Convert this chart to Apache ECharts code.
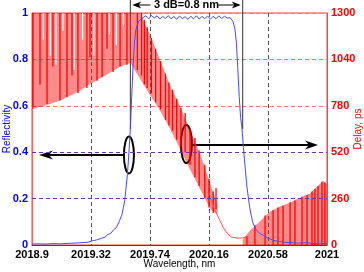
<!DOCTYPE html>
<html>
<head>
<meta charset="utf-8">
<script src="https://cdn.jsdelivr.net/npm/echarts@6/dist/echarts.min.js"></script>
<style>
html, body { margin: 0; padding: 0; background: #fff; }
#chart { width: 364px; height: 272px; }
</style>
</head>
<body>
<div id="chart"></div>
<script>
// x axis is drawn as offset from the first tick so the 0.42 nm ticks line up
var X0 = 2018.9;
var xStep = 0.42;
var xSpan = 2.1;

// reflectivity (left axis)
var reflW = [2018.90, 2018.95, 2019.00, 2019.05, 2019.10, 2019.15, 2019.20, 2019.25, 2019.30, 2019.33,
    2019.36, 2019.39, 2019.42, 2019.44, 2019.46, 2019.48, 2019.50, 2019.52, 2019.54, 2019.55,
    2019.56, 2019.57, 2019.58, 2019.59, 2019.60, 2019.61, 2019.62, 2019.63, 2019.64, 2019.66,
    2019.69, 2019.71, 2019.73, 2019.75, 2019.77, 2019.79, 2019.81, 2019.83, 2019.85, 2019.87,
    2019.89, 2019.91, 2019.93, 2019.95, 2019.97, 2019.99, 2020.01, 2020.03, 2020.05, 2020.07,
    2020.09, 2020.11, 2020.13, 2020.15, 2020.17, 2020.19, 2020.21, 2020.23, 2020.25, 2020.27,
    2020.29, 2020.31, 2020.33, 2020.345, 2020.355, 2020.365, 2020.375, 2020.385, 2020.395, 2020.405,
    2020.415, 2020.43, 2020.45, 2020.47, 2020.49, 2020.52, 2020.55, 2020.58, 2020.62, 2020.66,
    2020.70, 2020.75, 2020.80, 2020.85, 2020.90, 2020.95, 2021.00];
var reflR = [0.004, 0.005, 0.004, 0.006, 0.005, 0.007, 0.008, 0.010, 0.012, 0.018,
    0.022, 0.028, 0.034, 0.045, 0.050, 0.065, 0.075, 0.100, 0.130, 0.160,
    0.190, 0.250, 0.310, 0.400, 0.500, 0.640, 0.780, 0.880, 0.930, 0.965,
    0.980, 0.988, 0.975, 0.990, 0.978, 0.988, 0.974, 0.986, 0.976, 0.989,
    0.975, 0.985, 0.973, 0.987, 0.976, 0.984, 0.972, 0.986, 0.975, 0.988,
    0.974, 0.985, 0.976, 0.987, 0.973, 0.986, 0.975, 0.988, 0.976, 0.986,
    0.978, 0.980, 0.965, 0.930, 0.870, 0.760, 0.640, 0.550, 0.500, 0.420,
    0.350, 0.250, 0.160, 0.100, 0.070, 0.050, 0.040, 0.030, 0.020, 0.015,
    0.012, 0.010, 0.008, 0.010, 0.006, 0.008, 0.005];

// group delay, ps (right axis): dense ripple drawn as band + spikes
var bandW = [2018.90, 2018.99, 2019.10, 2019.21, 2019.31, 2019.42, 2019.53, 2019.60, 2019.67, 2019.74,
    2019.81, 2019.88, 2019.95, 2020.02, 2020.10, 2020.17, 2020.22];
var bandLo = [760, 780, 810, 850, 900, 950, 1000, 1020, 930, 840, 755, 655, 545, 430, 310, 200, 170];
var bandHi = [1300, 1300, 1300, 1300, 1300, 1300, 1300, 1300, 1300, 1180, 1040, 900, 785, 655, 505, 340, 230];

var tailW = [2020.17, 2020.20, 2020.23, 2020.26, 2020.29, 2020.32, 2020.36, 2020.40, 2020.44];
var tailPs = [260, 200, 150, 100, 65, 45, 38, 40, 50];

var envW = [2020.40, 2020.45, 2020.52, 2020.59, 2020.66, 2020.73, 2020.80, 2020.88, 2020.94, 2020.97, 2021.00];
var envHi = [30, 80, 130, 185, 215, 235, 262, 290, 335, 360, 340];

// [wavelength, top, bottom]
var spikes = [
    [2018.907, 1300, 770], [2018.957, 1300, 900], [2019.007, 1300, 790], [2019.049, 1300, 1000],
    [2019.099, 1300, 810], [2019.149, 1300, 830], [2019.185, 1300, 950], [2019.227, 1300, 850],
    [2019.291, 1300, 880], [2019.313, 1300, 1050], [2019.363, 1300, 920], [2019.399, 1300, 940],
    [2019.434, 1300, 1100], [2019.477, 1300, 970], [2019.527, 1300, 1000], [2019.576, 1300, 1010],
    [2019.65, 1300, 980], [2019.68, 1300, 950], [2019.70, 1260, 900], [2019.72, 1220, 880],
    [2019.75, 1160, 850], [2019.78, 1100, 800], [2019.815, 1030, 760], [2019.85, 960, 700],
    [2019.875, 910, 670], [2019.90, 870, 640], [2019.93, 820, 590], [2019.96, 770, 550],
    [2019.99, 740, 520], [2020.025, 650, 450], [2020.06, 600, 380], [2020.09, 530, 330],
    [2020.13, 450, 260], [2020.16, 370, 210], [2020.19, 300, 180], [2020.21, 320, 200],
    [2020.43, 50, 0], [2020.487, 110, 0], [2020.559, 165, 0], [2020.616, 195, 0], [2020.651, 210, 0],
    [2020.687, 220, 0], [2020.737, 240, 0], [2020.772, 250, 0], [2020.822, 270, 0],
    [2020.858, 280, 0], [2020.893, 300, 0], [2020.914, 315, 0], [2020.936, 330, 0],
    [2020.964, 355, 0], [2020.985, 350, 0]
];
var gaps = [
    [2018.98, 1300, 1150], [2019.03, 1300, 1060], [2019.07, 1300, 1010], [2019.12, 1300, 1200],
    [2019.20, 1300, 980], [2019.26, 1300, 1150], [2019.34, 1300, 1060], [2019.45, 1300, 1180],
    [2019.50, 1300, 1120], [2019.55, 1300, 1230],
    [2020.47, 95, 20], [2020.55, 160, 40], [2020.66, 215, 60], [2020.76, 245, 40],
    [2020.80, 260, 90], [2020.87, 285, 50], [2020.90, 305, 30], [2020.93, 320, 100], [2020.97, 360, 40]
];

// annotations
var bwMarks = [2019.6, 2020.4];
var bwLevel = 0.5;
var bwText = '3 dB=0.8 nm';
var guideLevels = [0.2, 0.4];
var leftOval = [2019.59, 0.388];
var rightOval = [2019.999, 0.435];
var leftArrow = [2019.555, 2018.95, 0.388];
var rightArrow = [2020.039, 2020.936, 0.431];

var FONT = 'Liberation Sans, Arial, sans-serif';
var PINK = 'rgba(255,0,0,0.46)';

function pairs(ws, vs) {
    return ws.map(function (w, i) { return [w - X0, vs[i]]; });
}

function segItem(color, width) {
    return function (params, api) {
        var a = api.coord([api.value(0), api.value(1)]);
        var b = api.coord([api.value(0), api.value(2)]);
        return {
            type: 'line',
            shape: { x1: a[0], y1: a[1], x2: b[0], y2: b[1] },
            style: { stroke: color, lineWidth: width }
        };
    };
}

// whole band as one polygon: along the top, then back along the bottom
function bandItem(params, api) {
    if (params.dataIndex !== 0) return null;
    var pts = [];
    var n = bandW.length;
    for (var i = 0; i < n; i++) pts.push(api.coord([bandW[i] - X0, bandHi[i]]));
    for (var j = n - 1; j >= 0; j--) pts.push(api.coord([bandW[j] - X0, bandLo[j]]));
    return { type: 'polygon', shape: { points: pts }, style: { fill: PINK } };
}

var chart = echarts.init(document.getElementById('chart'));

chart.setOption({
    animation: false,
    grid: {
        left: 32, right: 37, top: 13, bottom: 27, outerBoundsMode: 'none',
        show: true, borderColor: '#ff4040', borderWidth: 1
    },
    xAxis: {
        type: 'value', min: 0, max: xSpan, interval: xStep,
        name: 'Wavelength, nm', nameLocation: 'middle', nameGap: 14, nameMoveOverlap: false,
        nameTextStyle: { color: '#000', fontFamily: FONT, fontSize: 10 },
        axisLine: { lineStyle: { color: '#444' } },
        axisTick: { show: false },
        axisLabel: {
            color: '#000', fontFamily: FONT, fontWeight: 'bold', fontSize: 11, margin: 4,
            formatter: function (v) { return String(parseFloat((v + X0).toFixed(2))); }
        },
        splitLine: { show: true, lineStyle: { color: '#555', type: [4, 3] } }
    },
    yAxis: [{
        type: 'value', min: 0, max: 1, interval: 0.2,
        name: 'Reflectivity', nameLocation: 'middle', nameGap: 20, nameMoveOverlap: false,
        nameTextStyle: { color: '#0000ff', fontFamily: FONT, fontSize: 10 },
        axisLine: { show: true, lineStyle: { color: '#ff6060' } },
        axisTick: { show: false },
        axisLabel: { color: '#0000ff', fontFamily: FONT, fontWeight: 'bold', fontSize: 11, margin: 4 },
        splitLine: { show: false }
    }, {
        type: 'value', min: 0, max: 1300, interval: 260,
        name: 'Delay, ps', nameLocation: 'middle', nameGap: 26, nameRotate: 90, nameMoveOverlap: false,
        nameTextStyle: { color: '#ff0000', fontFamily: FONT, fontSize: 10 },
        axisLine: { show: true, lineStyle: { color: '#ff4040' } },
        axisTick: { show: false },
        axisLabel: {
            color: '#ff0000', fontFamily: FONT, fontWeight: 'bold', fontSize: 11, margin: 4,
            formatter: function (v) { return String(v); }
        },
        splitLine: { show: true, lineStyle: { color: '#ff7070', type: [4, 3] } }
    }],
    series: [{
        type: 'custom', yAxisIndex: 1, silent: true, clip: true,
        renderItem: bandItem,
        data: pairs(bandW, bandLo)
    }, {
        type: 'line', yAxisIndex: 1, symbol: 'none', silent: true,
        lineStyle: { width: 0, opacity: 0 },
        areaStyle: { color: PINK, opacity: 1 },
        data: pairs(envW, envHi)
    }, {
        type: 'custom', yAxisIndex: 1, silent: true, clip: true,
        renderItem: segItem('#ffffff', 1.2),
        data: gaps.map(function (g) { return [g[0] - X0, g[1], g[2]]; })
    }, {
        type: 'custom', yAxisIndex: 1, silent: true, clip: true,
        renderItem: segItem('#ff0000', 1.3),
        data: spikes.map(function (s) { return [s[0] - X0, s[1], s[2]]; })
    }, {
        type: 'line', yAxisIndex: 1, symbol: 'none', silent: true,
        lineStyle: { color: '#ff5050', width: 1 },
        data: pairs(tailW, tailPs)
    }, {
        type: 'line', yAxisIndex: 0, symbol: 'none', silent: true,
        lineStyle: { color: '#4848ff', width: 1 },
        data: pairs(reflW, reflR),
        markLine: {
            silent: true, symbol: 'none', label: { show: false },
            lineStyle: { color: '#7030b0', type: [4, 3], width: 1 },
            data: guideLevels.map(function (v) { return { yAxis: v }; })
        }
    }]
});

function px(w, r) {
    return chart.convertToPixel({ xAxisIndex: 0, yAxisIndex: 0 }, [w - X0, r]);
}

var m1 = px(bwMarks[0], bwLevel);
var m2 = px(bwMarks[1], bwLevel);
var lo1 = px(leftOval[0], leftOval[1]);
var ro1 = px(rightOval[0], rightOval[1]);
var la0 = px(leftArrow[0], leftArrow[2]);
var la1 = px(leftArrow[1], leftArrow[2]);
var ra0 = px(rightArrow[0], rightArrow[2]);
var ra1 = px(rightArrow[1], rightArrow[2]);
var topY = 5;
var ink = '#000';

function arrowHead(tip, dir, len, half) {
    return {
        type: 'polygon',
        shape: { points: [[tip[0], tip[1]], [tip[0] - dir * len, tip[1] - half], [tip[0] - dir * len * 0.7, tip[1]], [tip[0] - dir * len, tip[1] + half]] },
        style: { fill: ink }
    };
}

chart.setOption({
    graphic: [
        { type: 'line', shape: { x1: m1[0], y1: 0, x2: m1[0], y2: m1[1] }, style: { stroke: '#333', lineWidth: 1 } },
        { type: 'line', shape: { x1: m2[0], y1: 0, x2: m2[0], y2: m2[1] }, style: { stroke: '#333', lineWidth: 1 } },
        { type: 'text', x: (m1[0] + m2[0]) / 2, y: topY, style: { text: bwText, fill: ink, font: 'bold 11px ' + FONT, align: 'center', verticalAlign: 'middle' } },
        { type: 'line', shape: { x1: m1[0] + 4, y1: topY, x2: m1[0] + 20, y2: topY }, style: { stroke: ink, lineWidth: 1 } },
        arrowHead([m1[0] + 2, topY], -1, 9, 3.5),
        { type: 'line', shape: { x1: m2[0] - 25, y1: topY, x2: m2[0] - 4, y2: topY }, style: { stroke: ink, lineWidth: 1 } },
        arrowHead([m2[0] - 2, topY], 1, 9, 3.5),
        { type: 'ellipse', shape: { cx: lo1[0], cy: lo1[1], rx: 5, ry: 18.5 }, style: { fill: 'none', stroke: ink, lineWidth: 2 } },
        { type: 'ellipse', shape: { cx: ro1[0], cy: ro1[1], rx: 5.5, ry: 19 }, style: { fill: 'none', stroke: ink, lineWidth: 2 } },
        { type: 'line', shape: { x1: la0[0], y1: la0[1], x2: la1[0] + 8, y2: la1[1] }, style: { stroke: ink, lineWidth: 2 } },
        arrowHead(la1, -1, 14, 4.5),
        { type: 'line', shape: { x1: ra0[0], y1: ra0[1], x2: ra1[0] - 8, y2: ra1[1] }, style: { stroke: ink, lineWidth: 2 } },
        arrowHead(ra1, 1, 13, 4.5)
    ]
});
</script>
</body>
</html>
